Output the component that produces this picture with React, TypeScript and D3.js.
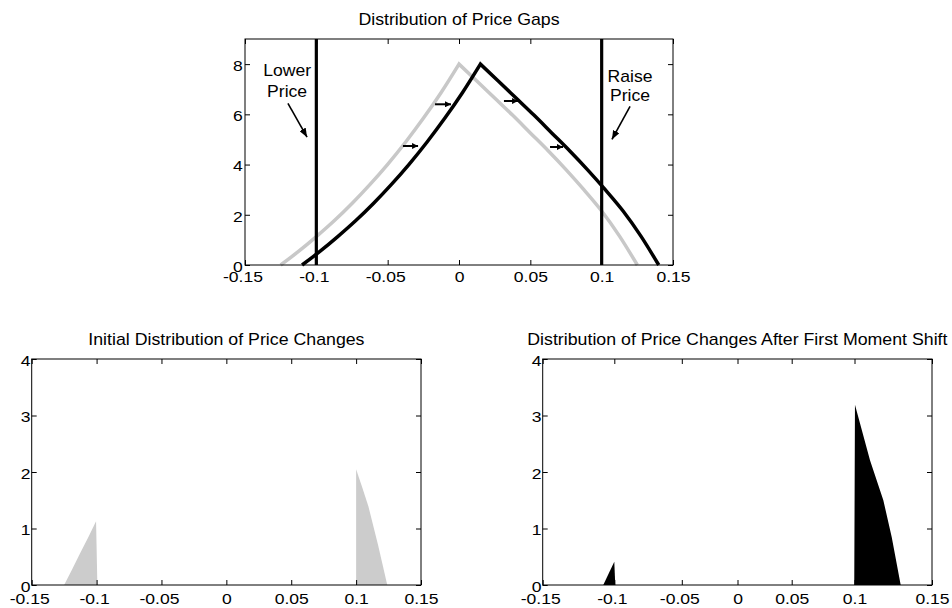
import { useEffect, useRef } from "react";
import * as d3 from "d3";

// tick values + labels shared by all three panels
const xTicks = [-0.15, -0.1, -0.05, 0, 0.05, 0.1, 0.15];
const xTickLabels = ["-0.15", "-0.1", "-0.05", "0", "0.05", "0.1", "0.15"];
const gapYTicks = [0, 2, 4, 6, 8];
const changeYTicks = [0, 1, 2, 3, 4];

// distribution of price gaps, before (grey) and after (black) the shift
const gapInitialX = [-0.125, -0.1125, -0.1, -0.0875, -0.075, -0.0625, -0.05, -0.0375, -0.025, -0.0125, 0, 0.0125, 0.025, 0.0375, 0.05, 0.0625, 0.075, 0.0875, 0.1, 0.1125, 0.125];
const gapInitialY = [0, 0.54, 1.13, 1.76, 2.45, 3.2, 4.01, 4.89, 5.84, 6.87, 8.0, 7.33, 6.65, 5.97, 5.26, 4.55, 3.8, 3.0, 2.15, 1.15, 0];
const gapShiftedX = [-0.11, -0.0975, -0.085, -0.0725, -0.06, -0.0475, -0.035, -0.0225, -0.01, 0.0025, 0.015, 0.0275, 0.04, 0.0525, 0.065, 0.0775, 0.09, 0.1025, 0.115, 0.1275, 0.14];
const gapShiftedY = [0, 0.54, 1.13, 1.76, 2.45, 3.2, 4.01, 4.89, 5.84, 6.87, 8.0, 7.33, 6.65, 5.97, 5.26, 4.55, 3.8, 3.0, 2.15, 1.15, 0];
const bands = [-0.1, 0.1];

// price change histograms
const initLowerX = [-0.125, -0.1188, -0.1125, -0.1063, -0.1004, -0.0994];
const initLowerY = [0, 0.28, 0.57, 0.85, 1.13, 0];
const initRaiseX = [0.1, 0.1, 0.1048, 0.1095, 0.117, 0.124];
const initRaiseY = [0, 2.05, 1.72, 1.39, 0.7, 0];
const shiftLowerX = [-0.1077, -0.104, -0.1, -0.0993];
const shiftLowerY = [0, 0.2, 0.41, 0];
const shiftRaiseX = [0.0998, 0.1003, 0.11, 0.1186, 0.124, 0.1298];
const shiftRaiseY = [0, 3.19, 2.21, 1.5, 0.85, 0];

const FONT = "'Liberation Sans', Arial, Helvetica, sans-serif";
const SX = 1.17; // text in the figure is stretched sideways

function App() {
  const ref = useRef(null);

  useEffect(() => {
    const svg = d3.select(ref.current);
    svg.selectAll("*").remove();

    const zip = (xs, ys) => xs.map((x, i) => [x, ys[i]]);

    function title(x, y, str) {
      svg
        .append("text")
        .attr("transform", `translate(${x},${y}) scale(1.11,1)`)
        .attr("text-anchor", "middle")
        .attr("font-family", FONT)
        .attr("font-size", 16)
        .text(str);
    }

    function frame(x, y, yTicks, xPad, yPad) {
      const [x0, x1] = [x.range()[0], x.range()[x.range().length - 1]];
      const [y0, y1] = y.range();
      const g = svg.append("g");

      const bottom = g
        .append("g")
        .attr("transform", `translate(0,${y0})`)
        .call(
          d3
            .axisBottom(x)
            .tickValues(xTicks)
            .tickFormat((d, i) => xTickLabels[i])
            .tickSize(-5)
            .tickPadding(xPad)
        );
      g.append("g")
        .attr("transform", `translate(0,${y1})`)
        .call(d3.axisTop(x).tickValues(xTicks).tickFormat("").tickSize(-5));
      const left = g
        .append("g")
        .attr("transform", `translate(${x0},0)`)
        .call(
          d3
            .axisLeft(y)
            .tickValues(yTicks)
            .tickFormat((d) => String(d))
            .tickSize(-5)
            .tickPadding(yPad)
        );
      g.append("g")
        .attr("transform", `translate(${x1},0)`)
        .call(d3.axisRight(y).tickValues(yTicks).tickFormat("").tickSize(-5));

      g.selectAll(".domain").remove();
      g.selectAll("g").attr("font-family", FONT).attr("font-size", 15);
      bottom
        .selectAll("text")
        .attr("fill", "#000")
        .attr("transform", `scale(${SX},1)`)
        .attr("dx", (d) => (d < 0 ? -2.5 / SX : 0));
      left
        .selectAll("text")
        .attr("fill", "#000")
        .attr("dy", "0.42em")
        .attr("transform", `scale(${SX},1)`);

      g.append("rect")
        .attr("x", x0)
        .attr("y", y1)
        .attr("width", x1 - x0)
        .attr("height", y0 - y1)
        .attr("fill", "none")
        .attr("stroke", "#000")
        .attr("stroke-width", 1);
    }

    // arrow heads
    const defs = svg.append("defs");
    [
      ["big", 9, 7],
      ["small", 6, 6],
    ].forEach(([id, len, wid]) => {
      defs
        .append("marker")
        .attr("id", `head-${id}`)
        .attr("markerUnits", "userSpaceOnUse")
        .attr("viewBox", `0 ${-wid / 2} ${len} ${wid}`)
        .attr("refX", len)
        .attr("refY", 0)
        .attr("markerWidth", len)
        .attr("markerHeight", wid)
        .attr("orient", "auto")
        .append("path")
        .attr("d", `M0,${-wid / 2}L${len},0L0,${wid / 2}Z`)
        .attr("fill", "#000");
    });

    // ---- Top: distribution of price gaps
    const xTop = d3.scaleLinear().domain([-0.15, 0.15]).range([245, 673]);
    const yTop = d3.scaleLinear().domain([0, 9]).range([265, 39]);
    const smooth = d3
      .line()
      .curve(d3.curveMonotoneX)
      .x((d) => xTop(d[0]))
      .y((d) => yTop(d[1]));

    // each side is smooth, the peak stays a sharp corner
    const peaked = (pts) => {
      const top = d3.maxIndex(pts, (d) => d[1]);
      return smooth(pts.slice(0, top + 1)) + smooth(pts.slice(top)).replace(/^M/, "L");
    };

    title(459, 25, "Distribution of Price Gaps");

    svg
      .append("path")
      .attr("d", peaked(zip(gapInitialX, gapInitialY)))
      .attr("fill", "none")
      .attr("stroke", "#c8c8c8")
      .attr("stroke-width", 3.5);
    svg
      .append("path")
      .attr("d", peaked(zip(gapShiftedX, gapShiftedY)))
      .attr("fill", "none")
      .attr("stroke", "#000")
      .attr("stroke-width", 3.5);
    svg
      .selectAll(".band")
      .data(bands)
      .enter()
      .append("line")
      .attr("x1", (d) => xTop(d))
      .attr("x2", (d) => xTop(d))
      .attr("y1", yTop(0))
      .attr("y2", yTop(9))
      .attr("stroke", "#000")
      .attr("stroke-width", 3.2);

    // band labels + arrows
    [
      { x: -0.1205, rows: [["Lower", 7.51], ["Price", 6.69]], from: [-0.1199, 6.44], to: [-0.1065, 5.09] },
      { x: 0.1199, rows: [["Raise", 7.28], ["Price", 6.52]], from: [0.1199, 6.32], to: [0.1072, 5.0] },
    ].forEach((a) => {
      a.rows.forEach(([s, yv]) => {
        svg
          .append("text")
          .attr("transform", `translate(${xTop(a.x)},${yTop(yv)}) scale(1.1,1)`)
          .attr("text-anchor", "middle")
          .attr("font-family", FONT)
          .attr("font-size", 16)
          .text(s);
      });
      svg
        .append("line")
        .attr("x1", xTop(a.from[0]))
        .attr("y1", yTop(a.from[1]))
        .attr("x2", xTop(a.to[0]))
        .attr("y2", yTop(a.to[1]))
        .attr("stroke", "#000")
        .attr("stroke-width", 1.6)
        .attr("marker-end", "url(#head-big)");
    });

    // small shift arrows
    [
      [-0.0393, -0.0287, 4.74],
      [-0.0168, -0.0056, 6.4],
      [0.0315, 0.0414, 6.53],
      [0.0638, 0.0729, 4.7],
    ].forEach(([a, b, yv]) => {
      svg
        .append("line")
        .attr("x1", xTop(a))
        .attr("x2", xTop(b))
        .attr("y1", yTop(yv))
        .attr("y2", yTop(yv))
        .attr("stroke", "#000")
        .attr("stroke-width", 2)
        .attr("marker-end", "url(#head-small)");
    });

    frame(xTop, yTop, gapYTicks, 6, 2);

    // ---- Bottom left: initial price changes
    const xInit = d3.scaleLinear().domain([-0.15, 0.15]).range([31.7, 421]);
    const yInit = d3.scaleLinear().domain([0, 4]).range([585, 359]);
    const areaInit = d3
      .area()
      .x((d) => xInit(d[0]))
      .y0(yInit(0))
      .y1((d) => yInit(d[1]));

    title(226.4, 345, "Initial Distribution of Price Changes");
    [zip(initLowerX, initLowerY), zip(initRaiseX, initRaiseY)].forEach((d) => {
      svg.append("path").datum(d).attr("d", areaInit).attr("fill", "#cccccc");
    });
    frame(xInit, yInit, changeYTicks, 8, 1);

    // ---- Bottom right: after first moment shift (axis in the figure is not evenly spaced)
    const xShift = d3
      .scaleLinear()
      .domain(xTicks)
      .range([542.7, 614.3, 681.8, 737.5, 791.7, 854.5, 932]);
    const yShift = d3.scaleLinear().domain([0, 4]).range([585, 359]);
    const areaShift = d3
      .area()
      .x((d) => xShift(d[0]))
      .y0(yShift(0))
      .y1((d) => yShift(d[1]));

    title(737.4, 345, "Distribution of Price Changes After First Moment Shift");
    [zip(shiftLowerX, shiftLowerY), zip(shiftRaiseX, shiftRaiseY)].forEach((d) => {
      svg.append("path").datum(d).attr("d", areaShift).attr("fill", "#000");
    });
    frame(xShift, yShift, changeYTicks, 8, 1);
  }, []);

  return (
    <svg
      ref={ref}
      width={952}
      height={608}
      style={{ position: "absolute", left: 0, top: 0, background: "#fff" }}
    />
  );
}

export default App;
